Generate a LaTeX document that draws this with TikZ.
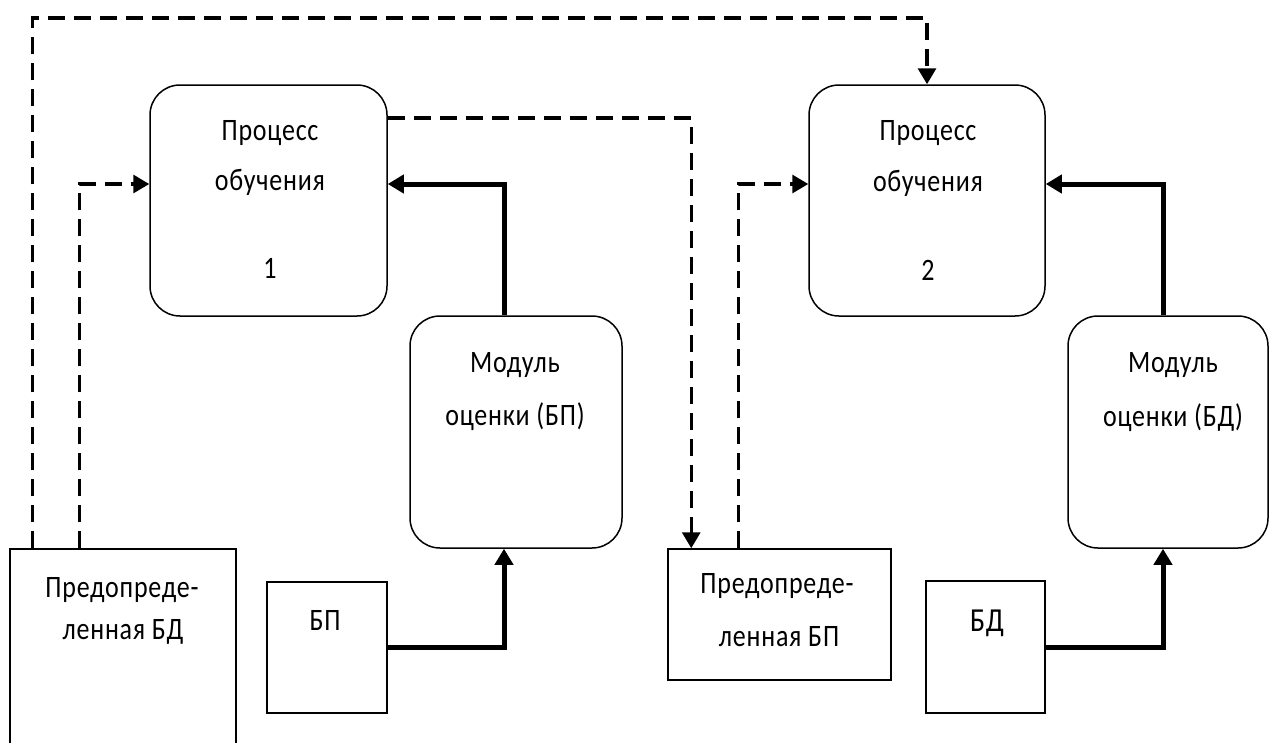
\documentclass[tikz,border=0pt]{standalone}
\usepackage{fontspec}
\setmainfont{Carlito}[LetterSpace=3]
\usetikzlibrary{arrows.meta}
\newcommand\sx[1]{\scalebox{1}[1.2]{#1}}
\begin{document}
\begin{tikzpicture}[x=1pt,y=-1pt,
  rbox/.style={draw, line width=1.5pt, rounded corners=30pt, inner sep=0pt},
  sbox/.style={draw, line width=1.5pt, inner sep=0pt},
  lbl/.style={font=\fontsize{26}{30}\selectfont, inner sep=0pt},
  dconn/.style={line width=3.3pt, dash pattern=on 17pt off 9pt, -{Triangle[length=16pt,width=18pt]}},
  sconn/.style={line width=5pt, -{Triangle[length=16pt,width=18pt]}}]
\useasboundingbox (0,0) rectangle (1271,742);
\clip (0,0) rectangle (1271,742);
% boxes
\node[rbox, minimum width=237pt, minimum height=231pt] (p1) at (268.5,200.5) {};
\node[rbox, minimum width=236pt, minimum height=231pt] (p2) at (927,200.5) {};
\node[rbox, minimum width=212pt, minimum height=232pt] (m1) at (516,432) {};
\node[rbox, minimum width=200pt, minimum height=232pt] (m2) at (1168,432) {};
\node[sbox, minimum width=226pt, minimum height=211pt] (d1) at (123,654.5) {};
\node[sbox, minimum width=223pt, minimum height=131pt] (d2) at (779.5,614.5) {};
\node[sbox, minimum width=120pt, minimum height=131pt] (b1) at (327,647.5) {};
\node[sbox, minimum width=119pt, minimum height=132pt] (b2) at (985.5,647) {};
% labels
\node[lbl] (p1a) at (270,133) {\sx{Процесс}};
\node[lbl] (p1b) at (270,182) {\sx{обучения}};
\node[lbl] (p1c) at (270,268) {\sx{1}};
\node[lbl] (p2a) at (928,133) {\sx{Процесс}};
\node[lbl] (p2b) at (928,183) {\sx{обучения}};
\node[lbl] (p2c) at (928,270) {\sx{2}};
\node[lbl] (m1a) at (515,365) {\sx{Модуль}};
\node[lbl] (m1b) at (515,417) {\sx{оценки (БП)}};
\node[lbl] (m2a) at (1173,365) {\sx{Модуль}};
\node[lbl] (m2b) at (1173,418) {\sx{оценки (БД)}};
\node[lbl] (d1a) at (122,590) {\sx{Предопреде-}};
\node[lbl] (d1b) at (123,632) {\sx{ленная БД}};
\node[lbl] (d2a) at (777,586) {\sx{Предопреде-}};
\node[lbl] (d2b) at (779,637) {\sx{ленная БП}};
\node[lbl] (b1a) at (325,620) {\sx{БП}};
\node[lbl, font=\fontsize{28}{32}\selectfont] (b2a) at (987,623) {\sx{БД}};
% connectors
\coordinate (top) at (0,18);
\draw[dconn] ([xshift=23pt]d1.north west) |- (top -| p2.north) -- (p2.north);
\draw[dconn] ([xshift=70pt]d1.north west) |- ([yshift=16.5pt]p1.west);
\draw[dconn] ([yshift=82.5pt]p1.east) -| ([xshift=24pt]d2.north west);
\draw[dconn] ([xshift=71pt]d2.north west) |- ([yshift=16.5pt]p2.west);
\draw[sconn] ([xshift=-12pt]m1.north) |- ([yshift=16.5pt]p1.east);
\draw[sconn] (b1.east) -| ([xshift=-12pt]m1.south);
\draw[sconn] ([xshift=-5pt]m2.north) |- ([yshift=16.5pt]p2.east);
\draw[sconn] (b2.east) -| ([xshift=-5pt]m2.south);
\end{tikzpicture}
\end{document}
